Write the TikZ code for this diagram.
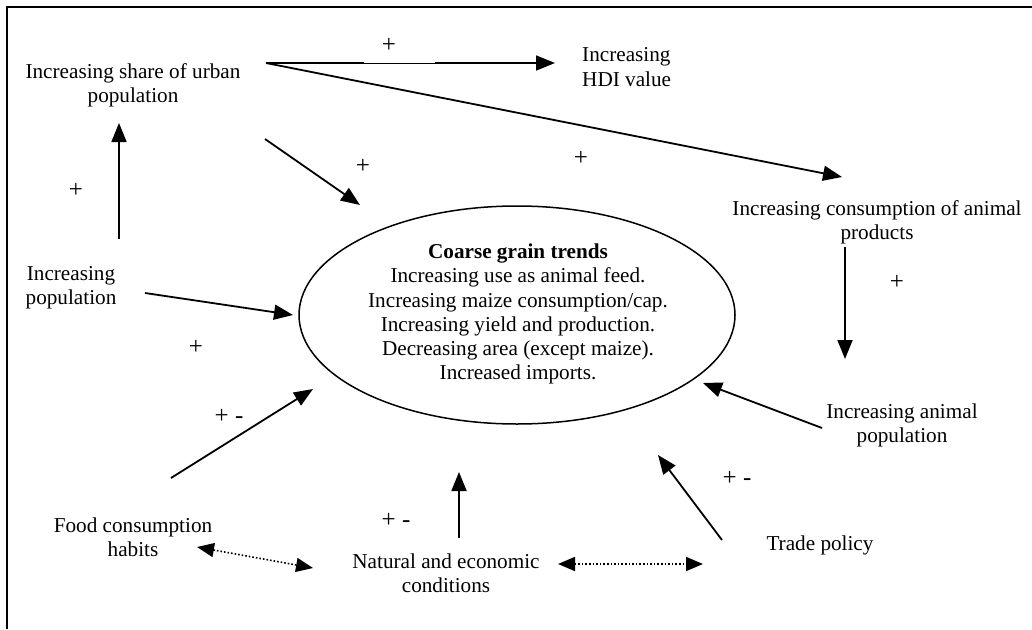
\documentclass[tikz,border=0pt]{standalone}
\usepackage{fontspec}
\setmainfont{Liberation Serif}
\usetikzlibrary{arrows.meta,shapes.geometric}
\begin{document}
\begin{tikzpicture}[x=1pt,y=-1pt,
  lbl/.style={font=\fontsize{21.2}{24.2}\selectfont, align=center, inner sep=0pt},
  sgn/.style={font=\fontsize{25}{28}\selectfont, inner sep=0pt},
  arr/.style={line width=1.8pt, -{Triangle[length=19pt,width=15pt]}},
  dotarr/.style={line width=1.6pt, dotted, {Triangle[length=17pt,width=14pt]}-{Triangle[length=17pt,width=14pt]}},
]
\useasboundingbox (0,0) rectangle (1032,629);
\draw[line width=1.5pt] (7,629) -- (7,7) -- (1032,7);

% central ellipse
\node[draw, ellipse, line width=1.5pt, minimum width=436pt, minimum height=218pt, inner sep=0pt] (core) at (517,315) {};
\node[lbl] (coretxt) at (518,314) {\textbf{Coarse grain trends}\\Increasing use as animal feed.\\Increasing maize consumption/cap.\\Increasing yield and production.\\Decreasing area (except maize).\\Increased imports.};

% text nodes
\node[lbl] (urban) at (133,85) {Increasing share of urban\\population};
\node[lbl, align=left, anchor=west] (hdi) at (582,67) {Increasing\\HDI value};
\node[lbl] (animprod) at (877,222) {Increasing consumption of animal\\products};
\node[lbl] (animpop) at (902,425) {Increasing animal\\population};
\node[lbl] (trade) at (820,545) {Trade policy};
\node[lbl] (natural) at (446,573) {Natural and economic\\conditions};
\node[lbl] (food) at (133,537) {Food consumption\\habits};
\node[lbl] (pop) at (71,288) {Increasing\\population};

% connector end points
\coordinate (u1) at (266,63);
\coordinate (h1) at (555,63);
\coordinate (a1) at (842,177);
\coordinate (ap1) at (845,247);
\coordinate (ap2) at (845,359);
\coordinate (ip1) at (822,428);
\coordinate (ip2) at (703,383);
\coordinate (tp1) at (722,540);
\coordinate (tp2) at (658,455);
\coordinate (nd1) at (558,564);
\coordinate (nd2) at (703,564);
\coordinate (nu1) at (459,538);
\coordinate (nu2) at (459,472);
\coordinate (fd1) at (197,547);
\coordinate (fd2) at (313,568);
\coordinate (fu1) at (171,478);
\coordinate (fu2) at (313,389);
\coordinate (pp1) at (145,293);
\coordinate (pp2) at (293,315);
\coordinate (pu1) at (119,239);
\coordinate (pu2) at (119,123);
\coordinate (ue1) at (265,139);
\coordinate (ue2) at (360,205);

% connectors
\draw[arr] (u1) -- (h1);
\draw[white, line width=2pt] (364,62.5) -- (435,62.5);
\draw[line width=0.8pt] (364,63.4) -- (435,63.4);
\draw[arr] (u1) -- (a1);
\draw[arr] (ap1) -- (ap2);
\draw[arr] (ip1) -- (ip2);
\draw[arr] (tp1) -- (tp2);
\draw[dotarr] (nd1) -- (nd2);
\draw[arr] (nu1) -- (nu2);
\draw[dotarr] (fd1) -- (fd2);
\draw[arr] (fu1) -- (fu2);
\draw[arr] (pp1) -- (pp2);
\draw[arr] (pu1) -- (pu2);
\draw[arr] (ue1) -- (ue2);

% signs
\node[sgn] (s1) at (389,45) {+};
\node[sgn] (s2) at (581,158) {+};
\node[sgn] (s3) at (363,166) {+};
\node[sgn] (s4) at (76,190) {+};
\node[sgn] (s5) at (897,282) {+};
\node[sgn] (s6) at (196,347) {+};
\node[sgn] (s7) at (229,416) {+ -};
\node[sgn] (s8) at (396,520) {+ -};
\node[sgn] (s9) at (737,478) {+ -};
\end{tikzpicture}
\end{document}
